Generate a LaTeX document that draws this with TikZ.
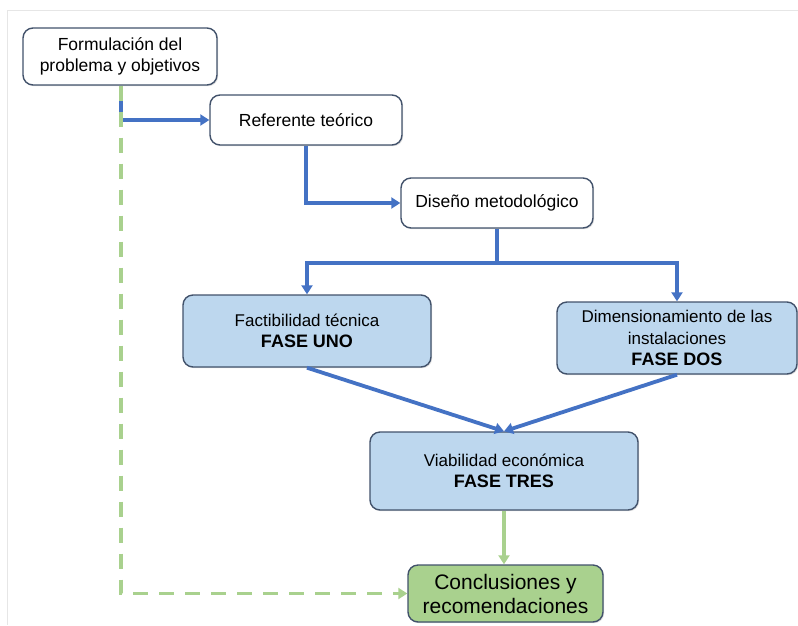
\documentclass[tikz,border=0pt]{standalone}
\usepackage{fontspec}
\setmainfont{Liberation Sans}
\usetikzlibrary{arrows.meta,shadows}
\definecolor{boxline}{HTML}{42526B}
\definecolor{phasefill}{HTML}{BDD7EE}
\definecolor{greenfill}{HTML}{A9D18E}
\definecolor{bluearrow}{HTML}{4472C4}
\definecolor{greenarrow}{HTML}{A9D18E}
\definecolor{framegray}{HTML}{E6E6E6}
\tikzset{
  basebox/.style={draw=boxline, line width=1.4pt, rounded corners=10pt, inner sep=0pt, align=center,
    drop shadow={opacity=0.25, shadow xshift=1.2pt, shadow yshift=-1.2pt}},
  whitebox/.style={basebox, fill=white, font=\fontsize{17.5}{21}\selectfont},
  phasebox/.style={basebox, fill=phasefill, font=\fontsize{17}{21.5}\selectfont},
  concbox/.style={basebox, fill=greenfill, font=\fontsize{21}{24}\selectfont},
  bluearr/.style={draw=bluearrow, line width=3.8pt, -{Triangle[length=9pt,width=11pt]}},
  greenarr/.style={draw=greenarrow, line width=3.8pt, -{Triangle[length=9pt,width=11pt]}},
  greendash/.style={greenarr, dash pattern=on 15pt off 11pt},
}
\begin{document}
\begin{tikzpicture}[x=1pt,y=-1pt]
\useasboundingbox (0,0) rectangle (798,625);
\draw[framegray, line width=1pt] (7,625) -- (7,10.5) -- (798,10.5);

\node[whitebox, minimum width=194pt, minimum height=57pt] (form) at (120,56.5) {Formulación del\\problema y objetivos};
\node[whitebox, minimum width=192pt, minimum height=50pt] (ref) at (306,120) {Referente teórico};
\node[whitebox, minimum width=192pt, minimum height=50pt] (dis) at (497,203) {Diseño metodológico};
\node[phasebox, minimum width=248pt, minimum height=72pt] (fac) at (307,331) {Factibilidad técnica\\\textbf{\fontsize{18}{21.5}\selectfont FASE UNO}};
\node[phasebox, minimum width=240pt, minimum height=72pt] (dim) at (677,338) {Dimensionamiento de las\\instalaciones\\\textbf{\fontsize{18}{20}\selectfont FASE DOS}};
\node[phasebox, minimum width=268pt, minimum height=78pt] (via) at (504,471) {Viabilidad económica\\\textbf{\fontsize{18}{21.5}\selectfont FASE TRES}};
\node[concbox, minimum width=195pt, minimum height=57pt] (con) at (505.5,593.5) {Conclusiones y\\recomendaciones};

\coordinate (j1) at (121,120);
\coordinate (br) at (497,263);

\draw[bluearr] (form.south -| j1) |- (ref.west);
\draw[bluearr] (ref.south) |- (dis.west);
\draw[bluearr] (dis.south) -- (br) -| (fac.north);
\draw[bluearr] (br) -| (dim.north);
\draw[bluearr] (fac.south) -- (via.north);
\draw[bluearr] (dim.south) -- (via.north);
\draw[greenarr] (via.south) -- (via.south |- con.north);
\draw[greendash] (form.south -| j1) |- (con.west);
\end{tikzpicture}
\end{document}
